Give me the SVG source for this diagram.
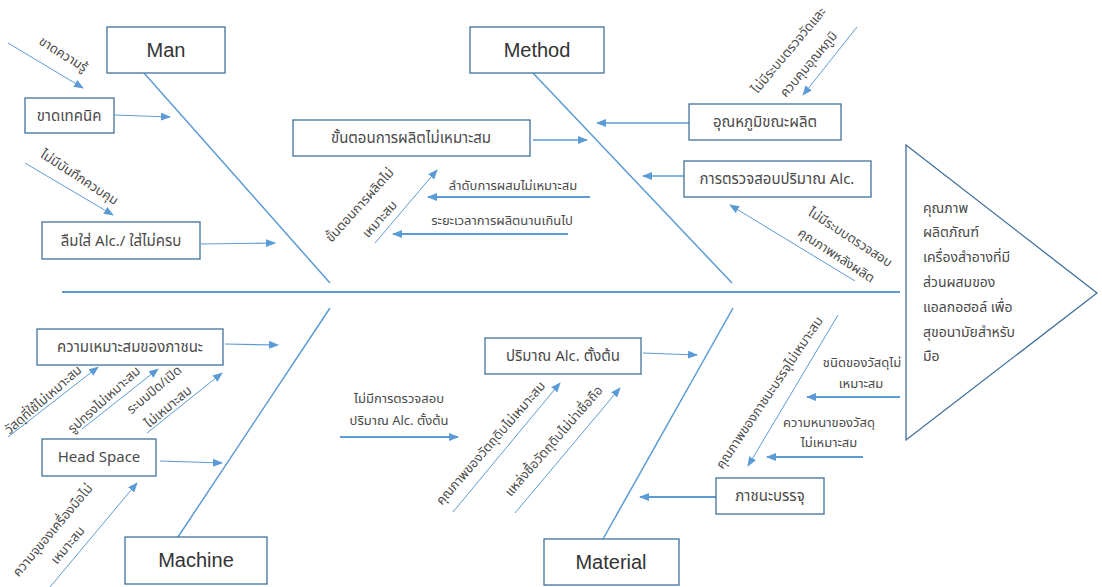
<svg xmlns="http://www.w3.org/2000/svg" width="1102" height="587" viewBox="0 0 1102 587">
<style>
.box{fill:#fff;stroke:#41719C;stroke-width:1.3}
.t{font-family:"Noto Sans Thai","Noto Sans","Liberation Sans","DejaVu Sans",sans-serif;fill:#4a4a4a}
.lbl{font-size:15px;text-anchor:middle}
.big{font-size:20px;text-anchor:middle;font-family:"Liberation Sans",sans-serif;fill:#333}
.sm{font-size:13px;text-anchor:middle}
.ln{stroke:#5B9BD5;fill:none}
.a{marker-end:url(#ah)}
</style>
<defs>
<marker id="ah" markerUnits="userSpaceOnUse" markerWidth="10" markerHeight="8" refX="9" refY="4" orient="auto">
<path d="M0,0 L10,4 L0,8 Z" fill="#5B9BD5"/>
</marker>
</defs>
<rect width="1102" height="587" fill="#fff"/>
<g id="connectors">
<path class="ln" stroke-width="2" d="M62,292 H900"/>
<path class="ln" stroke-width="1.5" d="M144,73 L330,283"/>
<path class="ln" stroke-width="1.5" d="M533,73 L732,283"/>
<path class="ln" stroke-width="1.5" d="M330,308 L178,537"/>
<path class="ln" stroke-width="1.5" d="M733,308 L603,539"/>
<path class="ln a" stroke-width="1" d="M8,43 L83,88"/>
<path class="ln a" stroke-width="1.2" d="M115,115 L170,117"/>
<path class="ln a" stroke-width="1" d="M25,163 L113,215"/>
<path class="ln a" stroke-width="1.2" d="M201,244 L275,243"/>
<path class="ln a" stroke-width="1.5" d="M533,140 L587,140"/>
<path class="ln a" stroke-width="1" d="M375,243 L437,170"/>
<path class="ln a" stroke-width="2" d="M590,197 L428,197"/>
<path class="ln a" stroke-width="2" d="M568,234 L393,234"/>
<path class="ln a" stroke-width="1.5" d="M689,123 L597,123"/>
<path class="ln a" stroke-width="1" d="M857,27 L803,95"/>
<path class="ln a" stroke-width="1.5" d="M684,176 L643,176"/>
<path class="ln a" stroke-width="1" d="M855,281 L730,205"/>
<path class="ln a" stroke-width="1.2" d="M225,344 L278,345"/>
<path class="ln a" stroke-width="1" d="M8,437 L98,367"/>
<path class="ln a" stroke-width="1" d="M82,429 L158,369"/>
<path class="ln a" stroke-width="1" d="M147,433 L222,373"/>
<path class="ln a" stroke-width="1.2" d="M160,461 L222,463"/>
<path class="ln a" stroke-width="1" d="M50,587 L137,483"/>
<path class="ln a" stroke-width="2" d="M340,437 L458,437"/>
<path class="ln a" stroke-width="1.2" d="M643,353 L697,355"/>
<path class="ln a" stroke-width="1" d="M453,512 L560,383"/>
<path class="ln a" stroke-width="1" d="M515,513 L620,388"/>
<path class="ln a" stroke-width="2" d="M716,497 L640,497"/>
<path class="ln a" stroke-width="1" d="M838,315 L748,466"/>
<path class="ln a" stroke-width="2" d="M900,397 L807,397"/>
<path class="ln a" stroke-width="2" d="M863,457 L767,457"/>
</g>
<g id="head"><path d="M906,145 L1097,293 L906,440 Z" fill="#fff" stroke="#41719C" stroke-width="1.3"/>
<text class="t" font-size="14"><tspan x="923" y="213">คุณภาพ</tspan><tspan x="923" y="237">ผลิตภัณฑ์</tspan><tspan x="923" y="262">เครื่องสำอางที่มี</tspan><tspan x="923" y="287">ส่วนผสมของ</tspan><tspan x="923" y="312">แอลกอฮอล์ เพื่อ</tspan><tspan x="923" y="337">สุขอนามัยสำหรับ</tspan><tspan x="923" y="361">มือ</tspan></text></g>
<g id="man"><rect class="box" x="107" y="27" width="118" height="46"/><text class="t big" x="166" y="57">Man</text></g>
<g id="method"><rect class="box" x="470" y="27" width="134" height="46"/><text class="t big" x="537" y="57">Method</text></g>
<g id="machine"><rect class="box" x="125" y="537" width="142" height="47"/><text class="t big" x="196" y="567">Machine</text></g>
<g id="material"><rect class="box" x="544" y="539" width="135" height="46"/><text class="t big" x="611" y="569">Material</text></g>
<g id="n-technique"><rect class="box" x="25" y="98" width="89" height="35"/><text class="t lbl" x="69" y="121">ขาดเทคนิค</text></g>
<g id="n-forget"><rect class="box" x="42" y="222" width="158" height="37"/><text class="t lbl" x="121" y="246">ลืมใส่ Alc./ ใส่ไม่ครบ</text></g>
<g id="n-process"><rect class="box" x="293" y="120" width="237" height="36"/><text class="t lbl" x="411" y="143">ขั้นตอนการผลิตไม่เหมาะสม</text></g>
<g id="n-temp"><rect class="box" x="689" y="104" width="152" height="36"/><text class="t lbl" x="765" y="127">อุณหภูมิขณะผลิต</text></g>
<g id="n-check"><rect class="box" x="684" y="161" width="187" height="36"/><text class="t lbl" x="777" y="184">การตรวจสอบปริมาณ Alc.</text></g>
<g id="n-container"><rect class="box" x="37" y="329" width="186" height="36"/><text class="t lbl" x="130" y="352">ความเหมาะสมของภาชนะ</text></g>
<g id="n-headspace"><rect class="box" x="42" y="439" width="114" height="37"/><text class="t lbl" x="99" y="462" font-family="Liberation Sans,sans-serif">Head Space</text></g>
<g id="n-initial"><rect class="box" x="485" y="338" width="156" height="36"/><text class="t lbl" x="563" y="361">ปริมาณ Alc. ตั้งต้น</text></g>
<g id="n-package"><rect class="box" x="716" y="478" width="108" height="36"/><text class="t lbl" x="770" y="501">ภาชนะบรรจุ</text></g>
<g id="labels">
<text class="t sm" transform="translate(61,58) rotate(32)">ขาดความรู้</text>
<text class="t sm" transform="translate(77,181) rotate(33)">ไม่มีบันทึกควบคุม</text>
<text class="t sm" transform="translate(363,208) rotate(-48)">ขั้นตอนการผลิตไม่</text>
<text class="t sm" transform="translate(383,222) rotate(-48)">เหมาะสม</text>
<text class="t sm" x="513" y="190">ลำดับการผสมไม่เหมาะสม</text>
<text class="t sm" x="502" y="225">ระยะเวลาการผลิตนานเกินไป</text>
<text class="t sm" transform="translate(792,53) rotate(-50)">ไม่มีระบบตรวจวัดและ</text>
<text class="t sm" transform="translate(812,67) rotate(-50)">ควบคุมอุณหภูมิ</text>
<text class="t sm" transform="translate(848,241) rotate(33)">ไม่มีระบบตรวจสอบ</text>
<text class="t sm" transform="translate(834,259) rotate(33)">คุณภาพหลังผลิต</text>
<text class="t sm" transform="translate(46,403) rotate(-41)">วัสดุที่ใช้ไม่เหมาะสม</text>
<text class="t sm" transform="translate(107,403) rotate(-42)">รูปทรงไม่เหมาะสม</text>
<text class="t sm" transform="translate(157,393) rotate(-40)">ระบบปิด/เปิด</text>
<text class="t sm" transform="translate(171,410) rotate(-40)">ไม่เหมาะสม</text>
<text class="t sm" transform="translate(56,533) rotate(-50)">ความจุของเครื่องมือไม่</text>
<text class="t sm" transform="translate(71,548) rotate(-50)">เหมาะสม</text>
<text class="t sm" x="399" y="403">ไม่มีการตรวจสอบ</text>
<text class="t sm" x="399" y="425">ปริมาณ Alc. ตั้งต้น</text>
<text class="t sm" transform="translate(494,446) rotate(-49)">คุณภาพของวัตถุดิบไม่เหมาะสม</text>
<text class="t sm" transform="translate(557,444) rotate(-49)">แหล่งซื้อวัตถุดิบไม่น่าเชื่อถือ</text>
<text class="t sm" transform="translate(773,395) rotate(-56)">คุณภาพของภาชนะบรรจุไม่เหมาะสม</text>
<text class="t sm" x="862" y="367">ชนิดของวัสดุไม่</text>
<text class="t sm" x="861" y="388">เหมาะสม</text>
<text class="t sm" x="829" y="427">ความหนาของวัสดุ</text>
<text class="t sm" x="829" y="447">ไม่เหมาะสม</text>
</g>
</svg>
